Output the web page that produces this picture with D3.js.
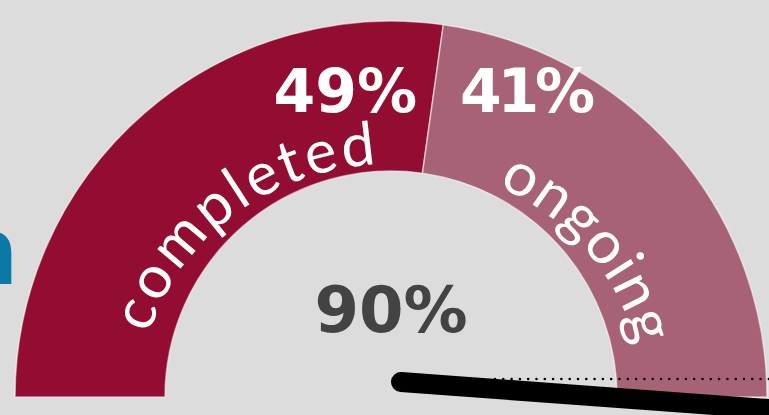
<!DOCTYPE html>
<html>
<head>
<meta charset="utf-8">
<script src="https://cdn.jsdelivr.net/npm/d3@7"></script>
<style>
  html, body { margin: 0; padding: 0; background: #dcdcdc; }
  svg { display: block; }
</style>
</head>
<body>
<svg id="gauge" width="769" height="415"></svg>
<script>
// Project status split, shown as a half-ring gauge
const categories = ["completed", "ongoing"];
const values = [49, 41];
const segmentColors = ["#930c31", "#a76375"];

const W = 769, H = 415;
const cx = 391, cy = 397;
const rOuter = 376, rInner = 226;
// the curved names sit on a slightly flattened oval inside the ring
const textRx = 251, textRy = 233;
const textShift = 2.2;          // degrees, nudge curved names clockwise
const nameSpans = [71, 52];     // degrees of arc covered by each name

const deg = Math.PI / 180;
const svg = d3.select("#gauge");

svg.append("rect").attr("width", W).attr("height", H).attr("fill", "#dcdcdc");

// clipped heading letter entering from the left edge
svg.append("text")
  .attr("x", -47).attr("y", 284)
  .attr("font-family", "DejaVu Sans, sans-serif")
  .attr("font-weight", "bold")
  .attr("font-size", 92)
  .attr("fill", "#0a79a6")
  .text("n");

const pie = d3.pie().sort(null)
  .startAngle(-Math.PI / 2).endAngle(Math.PI / 2)
  .value(d => d);
const arcs = pie(values);
const arc = d3.arc().innerRadius(rInner).outerRadius(rOuter);

const g = svg.append("g").attr("transform", `translate(${cx},${cy})`);

g.selectAll("path.seg")
  .data(arcs)
  .join("path")
  .attr("class", "seg")
  .attr("d", arc)
  .attr("fill", (d, i) => segmentColors[i])
  .attr("stroke", "rgba(255,255,255,0.55)")
  .attr("stroke-width", 1.5);

// one baseline path per name, spanning the arc the name occupies
const ovalPt = t => [textRx * Math.sin(t), -textRy * Math.cos(t)];
arcs.forEach((d, i) => {
  const mid = (d.startAngle + d.endAngle) / 2 + textShift * deg;
  const a0 = mid - nameSpans[i] / 2 * deg;
  const a1 = mid + nameSpans[i] / 2 * deg;
  const p0 = ovalPt(a0), p1 = ovalPt(a1);
  const path = g.append("path")
    .attr("id", "nameArc" + i)
    .attr("fill", "none")
    .attr("d", `M${p0[0]},${p0[1]} A${textRx},${textRy} 0 0 1 ${p1[0]},${p1[1]}`);
  const len = path.node().getTotalLength();
  g.append("text")
    .attr("class", "cat")
    .attr("font-family", "Lato, 'Open Sans', sans-serif")
    .attr("font-weight", 400)
    .attr("font-size", 60)
    .attr("fill", "#ffffff")
    .append("textPath")
    .attr("href", "#nameArc" + i)
    .attr("startOffset", 0)
    .attr("textLength", len)
    .attr("lengthAdjust", "spacing")
    .text(categories[i]);
});

// percentage labels either side of the split
const split = arcs[0].endAngle;
const labelY = 112;
const splitX = cx + (cy - labelY) * Math.tan(split);
svg.append("text")
  .attr("x", splitX - 14).attr("y", labelY)
  .attr("text-anchor", "end")
  .attr("font-family", "DejaVu Sans, sans-serif")
  .attr("font-weight", "bold")
  .attr("font-size", 60)
  .attr("fill", "#ffffff")
  .text(values[0] + "%");
svg.append("text")
  .attr("x", splitX + 29).attr("y", labelY)
  .attr("text-anchor", "start")
  .attr("font-family", "DejaVu Sans, sans-serif")
  .attr("font-weight", "bold")
  .attr("font-size", 60)
  .attr("fill", "#ffffff")
  .attr("textLength", 135)
  .attr("lengthAdjust", "spacing")
  .text(values[1] + "%");

// total in the middle
svg.append("text")
  .attr("x", cx).attr("y", 332)
  .attr("text-anchor", "middle")
  .attr("font-family", "DejaVu Sans, sans-serif")
  .attr("font-weight", "bold")
  .attr("font-size", 64)
  .attr("fill", "#434343")
  .text(d3.sum(values) + "%");

// dotted reference line
svg.append("line")
  .attr("x1", 495).attr("y1", 379).attr("x2", W + 5).attr("y2", 379)
  .attr("stroke", "#000")
  .attr("stroke-width", 2.6)
  .attr("stroke-linecap", "round")
  .attr("stroke-dasharray", "0 8.3");

// needle
const pivot = [401, 382];
const needleAngle = 94.2 * deg;
const needleLen = 520;
svg.append("line")
  .attr("x1", pivot[0]).attr("y1", pivot[1])
  .attr("x2", pivot[0] + needleLen * Math.sin(needleAngle))
  .attr("y2", pivot[1] - needleLen * Math.cos(needleAngle))
  .attr("stroke", "#000")
  .attr("stroke-width", 20)
  .attr("stroke-linecap", "round");
</script>
</body>
</html>
